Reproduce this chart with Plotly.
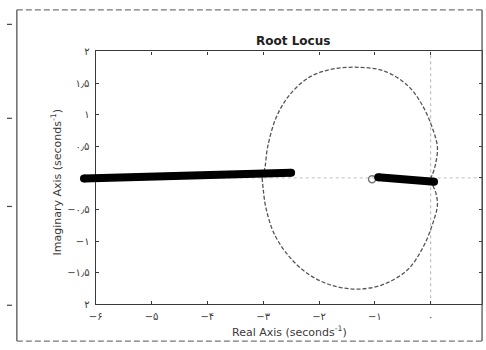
import plotly.graph_objects as go

# Root-locus branches (upper and lower complex-conjugate halves)
upper_re = [-3.02, -2.97, -2.92, -2.77, -2.53, -2.18, -1.77, -1.30, -0.83, -0.41, -0.15, 0.03, 0.12, 0.09, 0.03, 0.0]
upper_im = [0.0, 0.16, 0.49, 0.95, 1.31, 1.59, 1.72, 1.75, 1.69, 1.46, 1.15, 0.79, 0.49, 0.23, 0.05, 0.0]
lower_re = [-3.02, -3.00, -2.95, -2.80, -2.53, -2.18, -1.77, -1.30, -0.83, -0.41, -0.15, 0.03, 0.12, 0.09, 0.03, 0.0]
lower_im = [0.0, -0.18, -0.48, -0.89, -1.25, -1.53, -1.70, -1.76, -1.68, -1.45, -1.12, -0.74, -0.43, -0.23, -0.10, 0.0]

# Open-loop zero
zero_re = [-1.05]
zero_im = [-0.02]

# Real-axis locus segments, marked by hand with a thick pen
seg_a_re = [-6.21, -2.50]
seg_a_im = [-0.01, 0.08]
seg_b_re = [-0.94, 0.06]
seg_b_im = [0.01, -0.06]

x_ticks = [-6, -5, -4, -3, -2, -1, 0]
x_tick_text = ["−۶", "−۵", "−۴", "−۳", "−۲", "−۱", "۰"]
y_ticks = [2, 1.5, 1, 0.5, 0, -0.5, -1, -1.5, -2]
y_tick_text = ["۲", "۱٫۵", "۱", "۰٫۵", "", "−۰٫۵", "−۱", "−۱٫۵", "۲"]

W, H = 486, 350
x_range = [-6, 0.92]
y_range = [-2, 2]
x_dom = [90 / W, 482 / W]
y_dom = [1 - 309 / H, 1 - 48 / H]

# second subplot spanning the whole page with the same data scale,
# so the pen strokes can run past the axes box
def widen(r, d):
    span = (r[1] - r[0]) / (d[1] - d[0])
    return [r[0] - d[0] * span, r[1] + (1 - d[1]) * span]

x2_range = widen(x_range, x_dom)
y2_range = widen(y_range, y_dom)

ink = "#3a3a3a"
font_main = "DejaVu Sans, Liberation Sans, Arial, sans-serif"

fig = go.Figure()

curve_style = dict(color="#555555", width=1.3, dash="4px,2px")
fig.add_trace(go.Scatter(x=upper_re, y=upper_im, mode="lines", line=curve_style,
                         line_shape="spline", hoverinfo="skip"))
fig.add_trace(go.Scatter(x=lower_re, y=lower_im, mode="lines", line=curve_style,
                         line_shape="spline", hoverinfo="skip"))
fig.add_trace(go.Scatter(x=zero_re, y=zero_im, mode="markers",
                         marker=dict(symbol="circle-open", size=7, color="#777777",
                                     line=dict(width=1.5)),
                         hoverinfo="skip"))

for sx, sy in [(seg_a_re, seg_a_im), (seg_b_re, seg_b_im)]:
    fig.add_trace(go.Scatter(x=sx, y=sy, xaxis="x2", yaxis="y2", mode="lines+markers",
                             line=dict(color="black", width=8),
                             marker=dict(color="black", size=8),
                             hoverinfo="skip"))

axis_common = dict(showgrid=False, zeroline=False, showline=True, linecolor=ink,
                   linewidth=1.4, mirror="ticks", ticks="inside", ticklen=3,
                   tickcolor=ink, tickfont=dict(family=font_main, size=10, color=ink))

fig.update_layout(
    width=W, height=H,
    margin=dict(l=0, r=0, t=0, b=0),
    paper_bgcolor="white", plot_bgcolor="rgba(0,0,0,0)",
    showlegend=False,
    xaxis=dict(domain=x_dom, range=x_range, tickvals=x_ticks, ticktext=x_tick_text,
               ticklabelstandoff=3, **axis_common),
    yaxis=dict(domain=y_dom, range=y_range, tickvals=y_ticks, ticktext=y_tick_text,
               ticklabelstandoff=3, **axis_common),
    xaxis2=dict(domain=[0, 1], range=x2_range, anchor="y2", visible=False, fixedrange=True),
    yaxis2=dict(domain=[0, 1], range=y2_range, anchor="x2", visible=False, fixedrange=True),
)

shapes = [
    # dotted reference lines through the origin
    dict(type="line", xref="x", yref="y domain", x0=0, x1=0, y0=0, y1=1,
         line=dict(color="#b5b5b5", width=1, dash="dot"), layer="below"),
    dict(type="line", xref="x domain", yref="y", x0=0, x1=1, y0=0, y1=0,
         line=dict(color="#c0c0c0", width=1, dash="dot"), layer="below"),
    # figure frame
    dict(type="line", xref="paper", yref="paper", x0=10 / W, x1=10 / W,
         y0=1 - 5 / H, y1=1 - 347 / H, line=dict(color="#555555", width=1.3)),
    dict(type="line", xref="paper", yref="paper", x0=10 / W, x1=482 / W,
         y0=1 - 5 / H, y1=1 - 5 / H, line=dict(color="#777777", width=1.2, dash="6px,3px")),
    dict(type="line", xref="paper", yref="paper", x0=10 / W, x1=482 / W,
         y0=1 - 347 / H, y1=1 - 347 / H, line=dict(color="#777777", width=1.2, dash="6px,3px")),
    dict(type="line", xref="paper", yref="paper", x0=482 / W, x1=482 / W,
         y0=1 - 5 / H, y1=1 - 347 / H, line=dict(color="#555555", width=1.3)),
]
# short rule marks on the page margin
for yy in [20, 117, 208, 310]:
    shapes.append(dict(type="line", xref="paper", yref="paper", x0=0, x1=5 / W,
                       y0=1 - yy / H, y1=1 - yy / H, line=dict(color="#444444", width=1.2)))
fig.update_layout(shapes=shapes)

fig.add_annotation(text="<b>Root Locus</b>", xref="paper", yref="paper",
                   x=290 / W, y=1 - 37 / H, yanchor="middle", showarrow=False,
                   font=dict(family=font_main, size=12, color="#222222"))
fig.add_annotation(text="Real Axis (seconds<sup>-1</sup>)", xref="paper", yref="paper",
                   x=287 / W, y=1 - 337 / H, yanchor="middle", showarrow=False,
                   font=dict(family=font_main, size=11, color=ink))
fig.add_annotation(text="Imaginary Axis (seconds<sup>-1</sup>)", xref="paper", yref="paper",
                   x=50 / W, y=1 - 183 / H, xanchor="center", yanchor="middle",
                   showarrow=False, textangle=-90,
                   font=dict(family=font_main, size=11, color=ink))

fig.write_html("out.html")
